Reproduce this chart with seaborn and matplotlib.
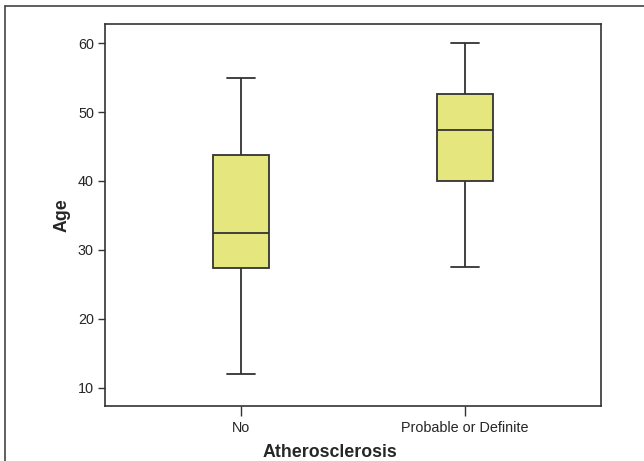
import numpy as np
import pandas as pd
import seaborn as sns
from matplotlib import pyplot as plt
from matplotlib.lines import Line2D

# five-number summaries (min, Q1, median, Q3, max)
groups = ["No", "Probable or Definite"]
age_no = [12.0, 27.4, 32.5, 43.7, 55.0]
age_prob = [27.5, 40.0, 47.4, 52.6, 60.0]
yticks = [10, 20, 30, 40, 50, 60]


def main():
    df = pd.DataFrame({
        "Atherosclerosis": [groups[0]] * len(age_no) + [groups[1]] * len(age_prob),
        "Age": age_no + age_prob,
    })

    sns.set_style("white")
    plt.rcParams["font.family"] = ["Liberation Sans", "DejaVu Sans"]

    fig = plt.figure(figsize=(6.44, 4.61), dpi=100)
    ax = fig.add_axes([0.163, 0.119, 0.770, 0.829])

    edge = "#333333"
    sns.boxplot(data=df, x="Atherosclerosis", y="Age", order=groups, ax=ax,
                width=0.25, color="#e6e67e", saturation=1, linewidth=1.3,
                linecolor=edge, whis=1.5, fliersize=0)

    ax.set_xlim(-0.61, 1.61)
    ax.set_ylim(7.3, 62.8)
    ax.set_yticks(yticks)

    for s in ax.spines.values():
        s.set_visible(True)
        s.set_color(edge)
        s.set_linewidth(1.2)

    ax.tick_params(axis="y", direction="out", length=5, width=1, color=edge,
                   labelsize=10.4, pad=3, left=True)
    ax.tick_params(axis="x", direction="out", length=7, width=1, color=edge,
                   labelsize=10.4, pad=4, bottom=True)

    ax.set_xlabel("Atherosclerosis", fontsize=12.8, fontweight="bold")
    ax.set_ylabel("Age", fontsize=12.8, fontweight="bold")
    ax.xaxis.set_label_coords(0.454, -0.1)
    ax.yaxis.set_label_coords(-0.07, 0.5)

    # outer frame (top and left edges of the figure panel)
    frame = "#444444"
    fig.add_artist(Line2D([5 / 644, 1.0], [1 - 6 / 461, 1 - 6 / 461],
                          transform=fig.transFigure, color=frame, lw=1.2))
    fig.add_artist(Line2D([5 / 644, 5 / 644], [0.0, 1 - 6 / 461],
                          transform=fig.transFigure, color=frame, lw=1.2))

    fig.savefig("out.png", dpi=100)


if __name__ == "__main__":
    main()
